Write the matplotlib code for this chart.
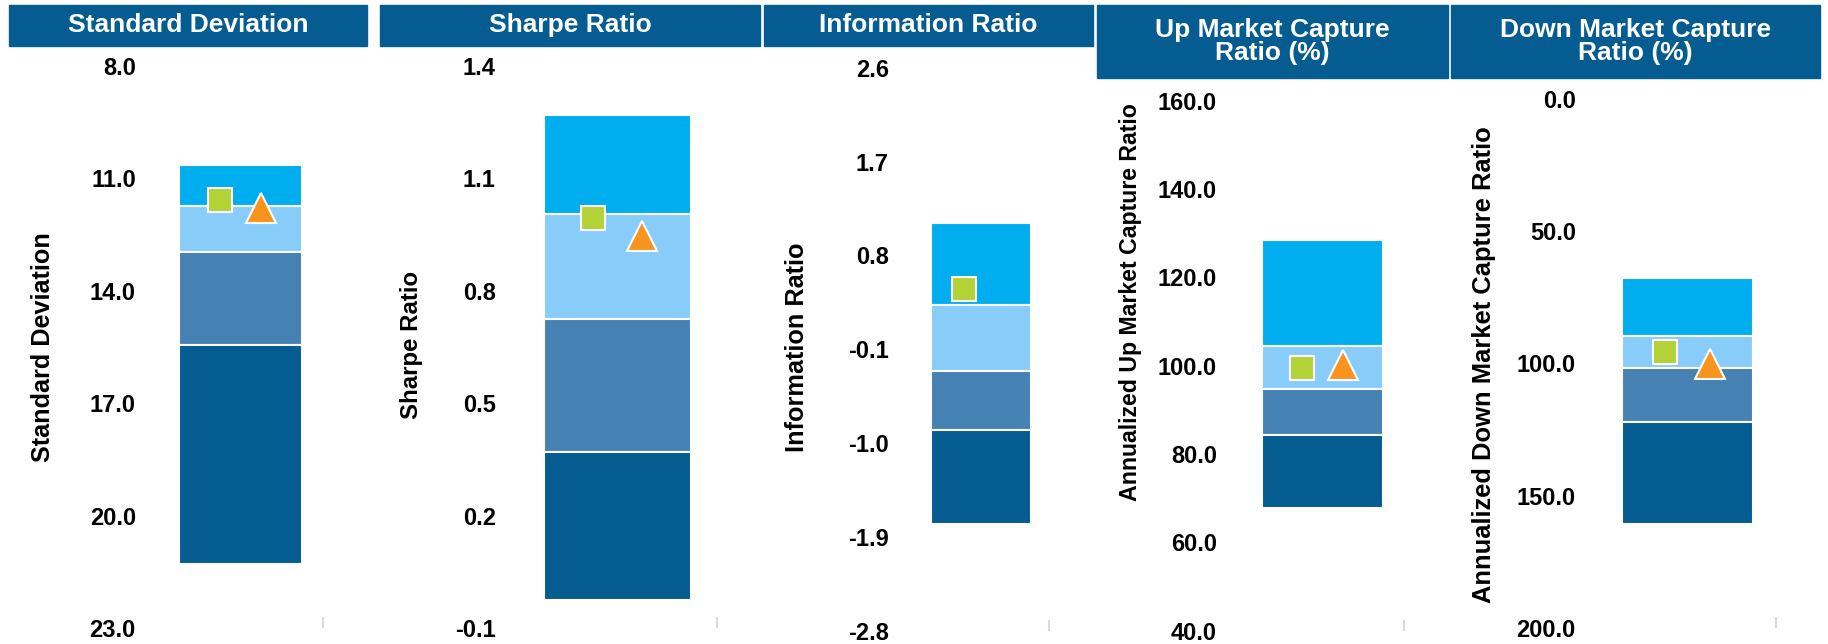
import numpy as np
import matplotlib
matplotlib.use("Agg")
import matplotlib.pyplot as plt
from matplotlib.patches import Rectangle

# ---- data ----
titles = ["Standard Deviation", "Sharpe Ratio", "Information Ratio",
          "Up Market Capture\nRatio (%)", "Down Market Capture\nRatio (%)"]
ylabels = ["Standard Deviation", "Sharpe Ratio", "Information Ratio",
           "Annualized Up Market Capture Ratio", "Annualized Down Market Capture Ratio"]
yticks = [
    [8.0, 11.0, 14.0, 17.0, 20.0, 23.0],
    [-0.1, 0.2, 0.5, 0.8, 1.1, 1.4],
    [-2.8, -1.9, -1.0, -0.1, 0.8, 1.7, 2.6],
    [40.0, 60.0, 80.0, 100.0, 120.0, 140.0, 160.0],
    [0.0, 50.0, 100.0, 150.0, 200.0],
]
inverted = [True, False, False, False, True]
# quartile breakpoints, best -> worst
breaks = [
    [10.66, 11.73, 12.96, 15.45, 21.27],
    [1.269, 1.006, 0.724, 0.369, -0.024],
    [1.11, 0.321, -0.309, -0.88, -1.775],
    [128.5, 104.4, 94.6, 84.2, 67.7],
    [67.8, 89.6, 101.6, 122.0, 160.5],
]
fund_vals = [11.59, 0.995, 0.475, 99.5, 95.7]      # green square
bench_vals = [11.78, 0.947, None, 100.2, 100.2]    # orange triangle

# ---- styling ----
W, H = 1828, 644
seg_colors = ["#00AEEF", "#88CDF9", "#4581B3", "#045C90"]
header_color = "#045C90"
sq_color = "#B2D235"
tri_color = "#F7941D"
lab_sizes = [18.2, 17.3, 18.2, 16.7, 18.4]

# pixel layout: axes left, right, top, bottom, bar centre, bar width
layout = [
    (140, 323, 65.7, 628.4, 240.5, 123),
    (500, 716.7, 65.7, 628.4, 617.5, 147),
    (893, 1049.3, 67.8, 630.5, 981, 99.4),
    (1221, 1404, 100.6, 630.5, 1322.7, 120.7),
    (1580, 1775.7, 98.6, 628.4, 1687.7, 130.7),
]
headers = [(9, 367, 4.9, 45.6), (380, 760, 4.9, 45.6), (764, 1093, 4.9, 45.6),
           (1097, 1447.7, 4.9, 77.6), (1451, 1820, 4.9, 77.6)]
ylab_pos = [(42.8, 347), (411.7, 345), (797, 347), (1130, 302), (1484, 364.5)]

fig = plt.figure(figsize=(W / 100, H / 100), dpi=100)

for i in range(5):
    l, r, t, b, c, bw = layout[i]
    ax = fig.add_axes([l / W, 1 - b / H, (r - l) / W, (b - t) / H])
    ax.set_xlim((l - c) / bw, (r - c) / bw)
    lo, hi = min(yticks[i]), max(yticks[i])
    ax.set_ylim((hi, lo) if inverted[i] else (lo, hi))

    bp = breaks[i]
    for k in range(4):
        ax.bar(0, bp[k + 1] - bp[k], bottom=bp[k], width=1.0,
               color=seg_colors[k], edgecolor="white", linewidth=1.5, zorder=2)

    ax.plot([-0.17], [fund_vals[i]], marker="s", ms=17, color=sq_color,
            mec="white", mew=1.5, zorder=4, ls="none")
    if bench_vals[i] is not None:
        ax.plot([0.17], [bench_vals[i]], marker="^", ms=21, color=tri_color,
                mec="white", mew=1.5, zorder=4, ls="none")

    for s in ax.spines.values():
        s.set_visible(False)
    ax.set_yticks(yticks[i])
    ax.set_yticklabels([f"{v:.1f}" for v in yticks[i]],
                       fontfamily="Liberation Sans", fontweight="bold", fontsize=17)
    ax.tick_params(axis="y", length=0, pad=3, colors="black")
    ax.set_xticks([(r - c) / bw])
    ax.set_xticklabels([""])
    ax.tick_params(axis="x", direction="in", length=8, width=1.5, color="#d9d9d9")

    fig.text(ylab_pos[i][0] / W, 1 - ylab_pos[i][1] / H, ylabels[i], rotation=90,
             ha="center", va="center", fontfamily="Liberation Sans", fontweight="bold",
             fontsize=lab_sizes[i], color="black")

    hx0, hx1, hy0, hy1 = headers[i]
    fig.patches.append(Rectangle((hx0 / W, 1 - hy1 / H), (hx1 - hx0) / W, (hy1 - hy0) / H,
                                 transform=fig.transFigure, color=header_color, zorder=0))
    fig.text((hx0 + hx1) / 2 / W, 1 - (hy0 + hy1) / 2 / H, titles[i], ha="center",
             va="center", color="white", fontfamily="Liberation Sans", fontweight="bold",
             fontsize=19, linespacing=0.95)

fig.savefig("out.png", dpi=100)
